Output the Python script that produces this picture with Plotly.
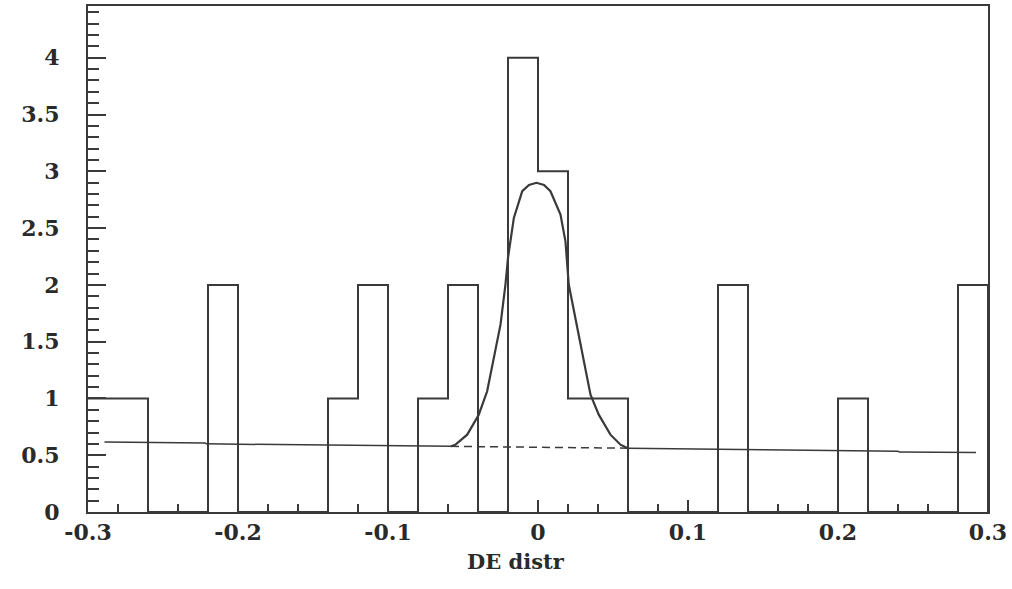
import plotly.graph_objects as go

# Histogram: bin edges (width 0.02) and counts
bin_edges = [round(-0.30 + 0.02 * i, 2) for i in range(31)]
counts = [1, 1, 0, 0, 2, 0, 0, 0, 1, 2,
          0, 1, 2, 0, 4, 3, 1, 1, 0, 0,
          0, 2, 0, 0, 0, 1, 0, 0, 0, 2]

# Fitted peak curve
peak_x = [-0.058, -0.055, -0.0472, -0.0395, -0.0339, -0.0295, -0.025, -0.0217,
          -0.020, -0.0161, -0.0105, -0.006, -0.001, 0.004, 0.0083, 0.015, 0.0183,
          0.0205, 0.025, 0.0295, 0.035, 0.0405, 0.0483, 0.055, 0.0595]
peak_y = [0.578, 0.593, 0.681, 0.857, 1.063, 1.357, 1.65, 2.003,
          2.238, 2.59, 2.825, 2.88, 2.899, 2.88, 2.825, 2.62, 2.384,
          2.003, 1.709, 1.386, 1.033, 0.857, 0.681, 0.593, 0.564]

# Background line
bg_left_x = [-0.289, -0.222, -0.221, -0.058]
bg_left_y = [0.617, 0.607, 0.600, 0.578]
bg_mid_x = [-0.058, 0.0, 0.001, 0.06]
bg_mid_y = [0.578, 0.570, 0.565, 0.562]
bg_right_x = [0.06, 0.240, 0.241, 0.292]
bg_right_y = [0.562, 0.535, 0.528, 0.523]

x_tickvals = [-0.3, -0.2, -0.1, 0, 0.1, 0.2, 0.3]
x_ticktext = ["-0.3", "-0.2", "-0.1", "0", "0.1", "0.2", "0.3"]
y_tickvals = [0, 0.5, 1, 1.5, 2, 2.5, 3, 3.5, 4]
y_ticktext = ["0", "0.5", "1", "1.5", "2", "2.5", "3", "3.5", "4"]

LC = "#3a3a3a"

fig = go.Figure()

step_x = bin_edges[:-1] + [bin_edges[-1]]
step_y = counts + [counts[-1]]
fig.add_trace(go.Scatter(x=step_x, y=step_y, mode="lines", line_shape="hv",
                         line=dict(color=LC, width=2), showlegend=False,
                         hoverinfo="skip"))
# closing drop at the right edge
fig.add_trace(go.Scatter(x=[bin_edges[-1], bin_edges[-1]], y=[counts[-1], 0],
                         mode="lines", line=dict(color=LC, width=2),
                         showlegend=False, hoverinfo="skip"))

fig.add_trace(go.Scatter(x=bg_left_x, y=bg_left_y, mode="lines",
                         line=dict(color=LC, width=1.5), showlegend=False))
fig.add_trace(go.Scatter(x=bg_mid_x, y=bg_mid_y, mode="lines",
                         line=dict(color=LC, width=1.5, dash="8px,5px"),
                         showlegend=False))
fig.add_trace(go.Scatter(x=bg_right_x, y=bg_right_y, mode="lines",
                         line=dict(color=LC, width=1.5), showlegend=False))
fig.add_trace(go.Scatter(x=peak_x, y=peak_y, mode="lines",
                         line=dict(color=LC, width=2.2), showlegend=False))

tick_font = dict(family="DejaVu Serif", size=22, color="#2a2a2a", weight="bold")

fig.update_layout(
    width=1012, height=589,
    margin=dict(l=88, r=24, t=6, b=77),
    paper_bgcolor="white", plot_bgcolor="white",
    xaxis=dict(range=[-0.3, 0.3], showgrid=False, zeroline=False,
               automargin=False,
               showline=True, mirror=True, linecolor=LC, linewidth=2,
               ticks="inside", ticklen=12, tickwidth=1.5, tickcolor=LC,
               tickvals=x_tickvals, ticktext=x_ticktext,
               tickfont=tick_font, ticklabelstandoff=0,
               minor=dict(ticks="inside", tick0=0, dtick=0.02, ticklen=8,
                          tickwidth=1.5, tickcolor=LC)),
    yaxis=dict(range=[0, 4.456], showgrid=False, zeroline=False,
               automargin=False,
               showline=True, mirror=True, linecolor=LC, linewidth=2,
               ticks="inside", ticklen=18, tickwidth=1.5, tickcolor=LC,
               tickvals=y_tickvals, ticktext=y_ticktext,
               tickfont=tick_font, ticklabelstandoff=22,
               minor=dict(ticks="inside", tick0=0, dtick=0.1, ticklen=11,
                          tickwidth=1.5, tickcolor=LC)),
    annotations=[dict(text="DE distr", xref="paper", yref="paper",
                      x=0.4756, y=-0.0988, xanchor="center", yanchor="middle",
                      showarrow=False,
                      font=dict(family="DejaVu Serif", size=21,
                                color="#2a2a2a", weight="bold"))],
)

fig.write_html("out.html",
               config={"displayModeBar": False},
               post_script="document.body.style.margin='0';document.body.style.overflow='hidden';")
